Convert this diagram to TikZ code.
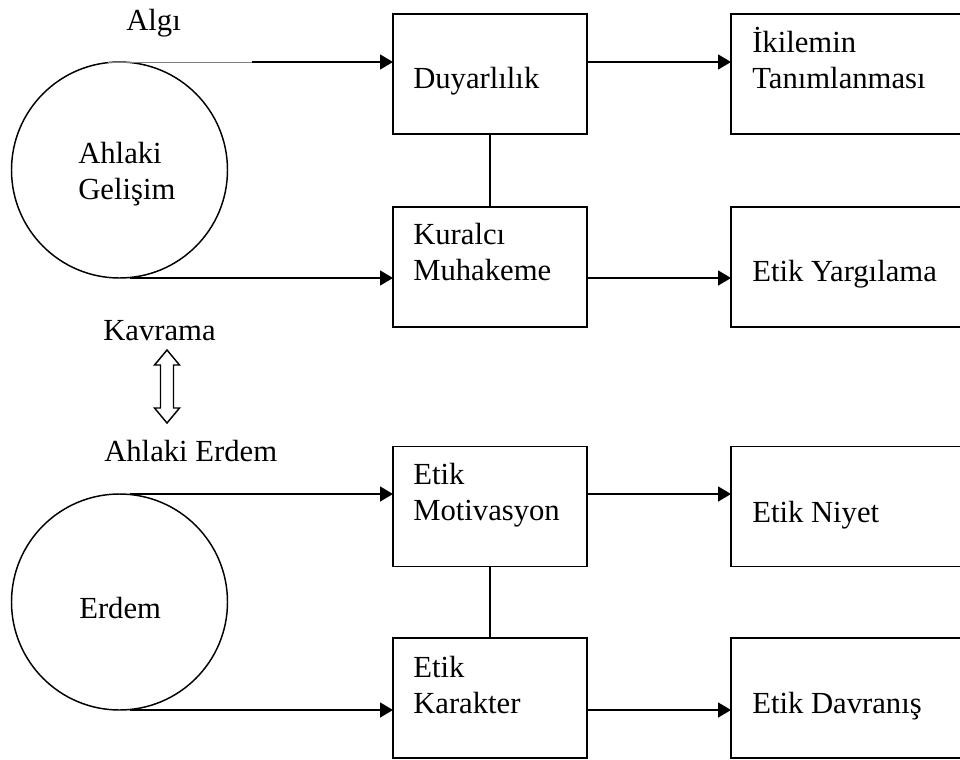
\documentclass[tikz,border=0pt]{standalone}
\usepackage{fontspec}
\setmainfont{Liberation Serif}
\usetikzlibrary{arrows.meta}
\begin{document}
\begin{tikzpicture}[x=0.75pt,y=-0.75pt,
  box/.style={draw,line width=1.3pt,minimum width=145.5pt,minimum height=90pt,inner sep=0pt,outer sep=0pt},
  wbox/.style={box,minimum width=173.25pt},
  ring/.style={draw,circle,line width=1.1pt,minimum size=162pt,inner sep=0pt,outer sep=0pt},
  lbl/.style={anchor=base west,inner sep=0pt,font=\fontsize{23}{27}\selectfont},
  conn/.style={line width=1.1pt},
  arr/.style={conn,-{Triangle[length=9.75pt,width=11.25pt]}},
  hollow/.style={draw,line width=1.1pt,line join=miter}]
\useasboundingbox (0,0) rectangle (960,760);
% shapes
\node[ring] (A) at (119.5,170) {};
\node[ring] (E) at (119.5,602) {};
\node[box] (D) at (490,74) {};
\node[box] (K) at (490,267) {};
\node[box] (M) at (490,506.5) {};
\node[box] (C) at (490,698) {};
\node[wbox] (I) at (846.5,74) {};
\node[wbox] (Y) at (846.5,267) {};
\node[wbox] (N) at (846.5,506.5) {};
\node[wbox] (B) at (846.5,698) {};
% texts
\node[lbl] (tAlgi) at (126,30) {Algı};
\node[lbl] (tA) at (78,163) {\begin{tabular}[t]{@{}l@{}}Ahlaki\\Gelişim\end{tabular}};
\node[lbl] (tD) at (413,88) {Duyarlılık};
\node[lbl] (tI) at (752,52) {\begin{tabular}[t]{@{}l@{}}İkilemin\\Tanımlanması\end{tabular}};
\node[lbl] (tK) at (413,244) {\begin{tabular}[t]{@{}l@{}}Kuralcı\\Muhakeme\end{tabular}};
\node[lbl] (tY) at (752,281) {Etik Yargılama};
\node[lbl] (tKav) at (103,340) {Kavrama};
\node[lbl] (tAE) at (104,461) {Ahlaki Erdem};
\node[lbl] (tM) at (413,484) {\begin{tabular}[t]{@{}l@{}}Etik\\Motivasyon\end{tabular}};
\node[lbl] (tN) at (752,522) {Etik Niyet};
\node[lbl] (tE) at (79,618) {Erdem};
\node[lbl] (tC) at (413,677) {\begin{tabular}[t]{@{}l@{}}Etik\\Karakter\end{tabular}};
\node[lbl] (tB) at (752,713) {Etik Davranış};
% connectors
\coordinate (g) at (252,62);
\draw[line width=0.5pt,gray] ([xshift=-9pt]A.north) -- (g);
\draw[arr] (g) -- (D.west |- g);
\draw[arr] ([xshift=8pt]A.south) -- (K.west |- A.south);
\draw[arr] (D.east |- A.north) -- (I.west |- A.north);
\draw[arr] (K.east |- A.south) -- (Y.west |- A.south);
\draw[conn] (D.south) -- (K.north);
\draw[arr] ([xshift=8pt]E.north) -- (M.west |- E.north);
\draw[arr] ([xshift=8pt]E.south) -- (C.west |- E.south);
\draw[arr] (M.east |- E.north) -- (N.west |- E.north);
\draw[arr] (C.east |- E.south) -- (B.west |- E.south);
\draw[conn] (M.south) -- (C.north);
% hollow double arrow
\draw[hollow] (167,350) -- (179.5,365) -- (173.5,365) -- (173.5,408) -- (179.5,408)
  -- (167,423) -- (154.5,408) -- (160.5,408) -- (160.5,365) -- (154.5,365) -- cycle;
\end{tikzpicture}
\end{document}
